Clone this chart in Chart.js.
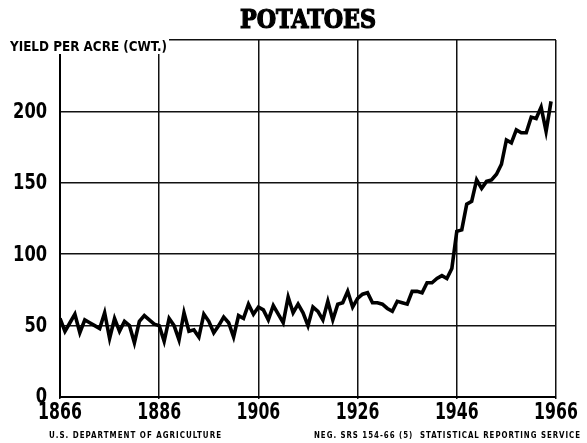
<!DOCTYPE html>
<html>
<head>
<meta charset="utf-8">
<script src="https://cdn.jsdelivr.net/npm/chart.js@4"></script>
<style>
  body { margin: 0; background: #fff; }
  #wrap { width: 587px; height: 443px; position: relative; }
</style>
</head>
<body>
<div id="wrap"><canvas id="potatoChart"></canvas></div>
<script>
// yield per acre (cwt.), 1866-1965
const years = [];
for (let y = 1866; y <= 1965; y++) years.push(y);

const yields = [
  55, 46, 52, 58, 45, 54, 52, 50, 48, 59,   // 1866-1875
  41, 55, 46, 53, 50, 38, 53, 57, 54, 51,   // 1876-1885
  50, 39, 55, 50, 40, 59, 46, 47, 42, 58,   // 1886-1895
  53, 45, 50, 56, 52, 42, 57, 55, 65, 58,   // 1896-1905
  63, 61, 54, 64, 58, 52, 70, 59, 65, 59,   // 1906-1915
  50, 63, 60, 54, 67, 54, 65, 66, 74, 63,   // 1916-1925
  69, 72, 73, 66, 66, 65, 62, 60, 67, 66,   // 1926-1935
  65, 74, 74, 73, 80, 80, 83, 85, 83, 90,   // 1936-1945
  116, 117, 135, 137, 152, 146, 151, 152, 156, 163, // 1946-1955
  180, 178, 187, 185, 185, 196, 195, 203, 186, 207  // 1956-1965
];

const yTicks = [0, 50, 100, 150, 200];
const xTicks = [1866, 1886, 1906, 1926, 1946, 1966];

const condFont = '"DejaVu Sans Condensed", "DejaVu Sans", sans-serif';

// draw text squeezed horizontally (old condensed lettering)
function squeezed(ctx, text, x, y, sx, align, stroke) {
  ctx.save();
  ctx.translate(x, y);
  ctx.scale(sx, 1);
  ctx.textAlign = align;
  ctx.fillText(text, 0, 0);
  if (stroke) ctx.strokeText(text, 0, 0);
  ctx.restore();
}

// draw text stretched or squeezed to fill a given width
function fitted(ctx, text, x, y, width, stroke) {
  const w = ctx.measureText(text).width;
  squeezed(ctx, text, x, y, width / w, 'left', stroke);
}

// tick labels, title, y-axis caption and footer
const textPlugin = {
  id: 'texts',
  afterDraw(chart) {
    const ctx = chart.ctx;
    const xs = chart.scales.x, ys = chart.scales.y;
    ctx.save();
    ctx.fillStyle = '#000';
    ctx.strokeStyle = '#000';

    ctx.font = 'bold 23px ' + condFont;
    ctx.textBaseline = 'alphabetic';
    xTicks.forEach(v => squeezed(ctx, String(v), xs.getPixelForValue(v), 419, 0.76, 'center'));

    ctx.font = 'bold 21px ' + condFont;
    ctx.textBaseline = 'middle';
    yTicks.forEach(v => squeezed(ctx, String(v), 47, ys.getPixelForValue(v) + 1, 0.86, 'right'));

    ctx.textBaseline = 'alphabetic';
    ctx.font = 'bold 26px "DejaVu Serif Condensed", "DejaVu Serif", serif';
    ctx.lineWidth = 1.2;
    fitted(ctx, 'POTATOES', 240, 28, 136, true);

    // caption sits over the top-left corner of the grid
    ctx.fillStyle = '#fff';
    ctx.fillRect(0, 36, 169, 18);
    ctx.fillStyle = '#000';
    ctx.font = 'bold 14px ' + condFont;
    fitted(ctx, 'YIELD PER ACRE (CWT.)', 10, 51, 157);

    ctx.font = 'bold 8px ' + condFont;
    ctx.letterSpacing = '1px';
    fitted(ctx, 'U.S. DEPARTMENT OF AGRICULTURE', 49, 438, 173);
    fitted(ctx, 'NEG. SRS 154-66 (5)  STATISTICAL REPORTING SERVICE', 314, 438, 267);
    ctx.restore();
  }
};

new Chart(document.getElementById('potatoChart'), {
  type: 'line',
  data: {
    datasets: [{
      data: years.map((y, i) => ({ x: y, y: yields[i] })),
      borderColor: '#000',
      borderWidth: 3.6,
      pointRadius: 0,
      tension: 0,
      fill: false
    }]
  },
  options: {
    responsive: true,
    maintainAspectRatio: false,
    animation: false,
    layout: { padding: { top: 40, right: 31, bottom: 0, left: 0 } },
    plugins: { legend: { display: false }, tooltip: { enabled: false } },
    scales: {
      x: {
        type: 'linear',
        min: 1866,
        max: 1966,
        afterBuildTicks: (axis) => { axis.ticks = xTicks.map(v => ({ value: v })); },
        afterFit: (axis) => { axis.height = 46; },
        ticks: { display: false },
        grid: { color: '#111', lineWidth: 1.5, tickLength: 2 },
        border: { color: '#000', width: 2 }
      },
      y: {
        min: 0,
        max: 250,
        afterBuildTicks: (axis) => { axis.ticks = yTicks.concat([250]).map(v => ({ value: v })); },
        afterFit: (axis) => { axis.width = 60; },
        ticks: { display: false },
        grid: { color: '#111', lineWidth: 1.5, tickLength: 0 },
        border: { color: '#000', width: 2 }
      }
    }
  },
  plugins: [textPlugin]
});
</script>
</body>
</html>
